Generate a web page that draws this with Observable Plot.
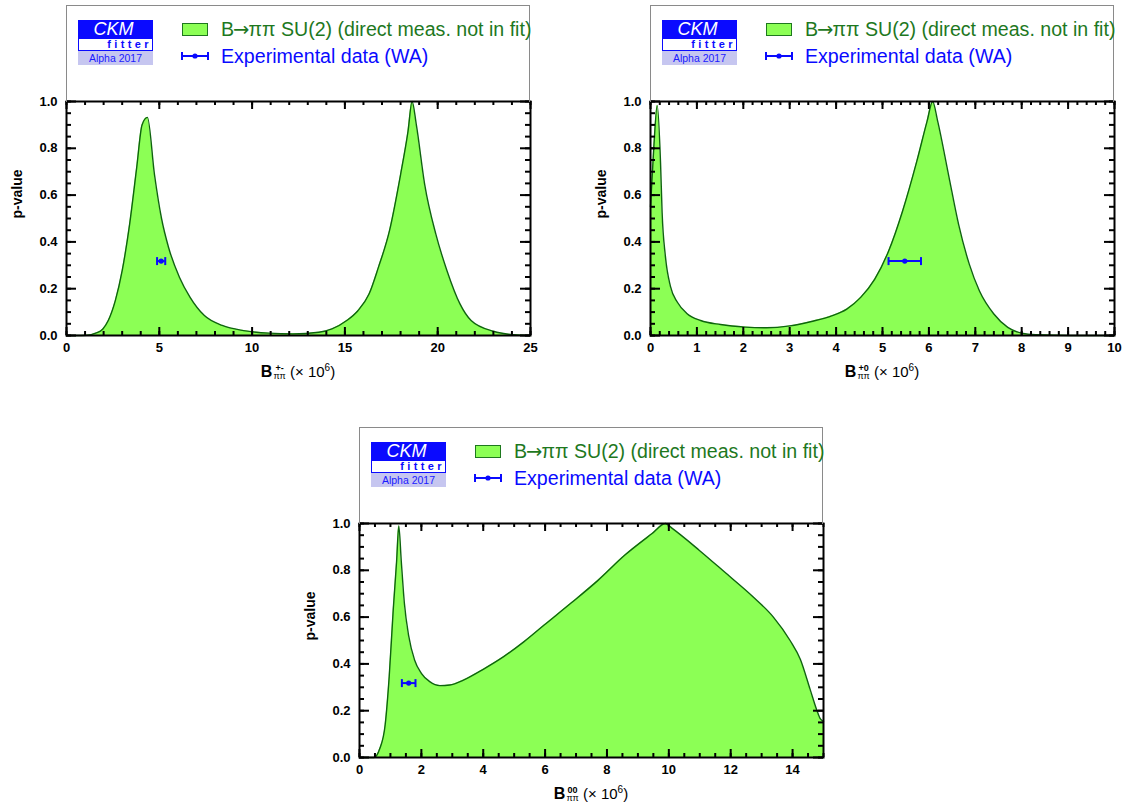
<!DOCTYPE html>
<html><head><meta charset="utf-8">
<script src="https://cdn.jsdelivr.net/npm/d3@7"></script>
<script src="https://cdn.jsdelivr.net/npm/@observablehq/plot@0.6"></script>
<style>
html,body{margin:0;padding:0;background:#fff;overflow:hidden;width:1132px;height:805px;font-family:"Liberation Sans",Arial,Helvetica,sans-serif;}
.panel{position:absolute;width:560px;height:395px;}
.panel svg{position:absolute;left:0;top:0;overflow:visible;}
.box{position:absolute;left:66px;top:5px;width:464px;height:97px;border:1px solid #8a8a8a;border-bottom:none;box-sizing:border-box;}
.logo{position:absolute;left:78px;top:20px;width:75px;}
.ckm{height:19px;overflow:hidden;background:#0a0aff;color:#fff;font-style:italic;font-size:18px;line-height:19px;text-align:center;padding-right:4px;box-sizing:border-box;}
.fit{height:12px;overflow:hidden;background:#fff;border:1px solid #0a0aff;border-top:none;color:#0a0aff;font-weight:bold;font-size:11px;line-height:11px;text-align:right;letter-spacing:3.4px;box-sizing:border-box;}
.alpha{height:14px;overflow:hidden;background:#c6c6f0;color:#1a1aff;font-size:10.5px;line-height:14px;text-align:center;}
.sw{position:absolute;left:182px;top:23px;width:26px;height:13px;background:#8cff55;border:1.5px solid #1e781e;box-sizing:border-box;}
.lt{position:absolute;left:221px;font-size:19.6px;line-height:20px;white-space:nowrap;}
.lt1{top:19px;color:#1e781e;}
.lt2{top:46px;color:#0a0aff;}
.arr{font-family:"DejaVu Sans";margin-left:-1px;margin-right:-1px;}
.xlab{position:absolute;left:66px;width:464px;top:362px;text-align:center;font-size:15px;white-space:nowrap;color:#000;}
.xlab b{font-weight:bold;font-size:16px;}
.ss{display:inline-flex;flex-direction:column;vertical-align:middle;font-size:9px;line-height:8px;font-weight:bold;margin-left:1px;position:relative;top:-1px;}
.ss .sb{font-weight:normal;}
.xlab sup{font-size:10px;}
</style>
</head><body>
<script>
// ---------- data ----------
const pm_x = [0, 0.5, 1.1, 1.57, 1.96, 2.25, 2.63, 3.0, 3.4, 3.78, 4.07, 4.36, 4.74, 5.12, 5.5, 6.09, 6.66, 7.43, 8.39, 9.54, 10.9, 12.2, 13.6, 14.3, 15.1, 15.7, 16.3, 16.8, 17.4, 18.0, 18.4, 18.62, 18.85, 19.3, 19.9, 20.5, 21.2, 21.8, 23.0, 24.1, 25];
const pm_p = [0, 0, 0.001, 0.01, 0.028, 0.064, 0.149, 0.277, 0.475, 0.716, 0.90, 0.932, 0.688, 0.50, 0.376, 0.248, 0.163, 0.085, 0.043, 0.021, 0.01, 0.007, 0.014, 0.028, 0.064, 0.106, 0.177, 0.29, 0.447, 0.688, 0.872, 1.0, 0.90, 0.645, 0.433, 0.277, 0.135, 0.064, 0.018, 0.003, 0];

const p0_x = [0, 0.07, 0.145, 0.216, 0.25, 0.32, 0.43, 0.58, 0.79, 1.08, 1.51, 2.04, 2.5, 3.0, 3.47, 3.92, 4.23, 4.53, 4.83, 5.13, 5.43, 5.74, 5.96, 6.08, 6.19, 6.42, 6.64, 6.87, 7.09, 7.4, 7.7, 8.0, 8.3, 9.06, 10];
const p0_p = [0.55, 0.8, 0.983, 0.74, 0.527, 0.34, 0.21, 0.142, 0.093, 0.064, 0.047, 0.036, 0.033, 0.041, 0.06, 0.085, 0.113, 0.163, 0.24, 0.36, 0.53, 0.745, 0.915, 1.0, 0.915, 0.69, 0.475, 0.305, 0.19, 0.092, 0.035, 0.01, 0.003, 0, 0];

const z0_x = [0, 0.47, 0.65, 0.83, 0.96, 1.09, 1.2, 1.27, 1.35, 1.45, 1.59, 1.78, 2.0, 2.27, 2.6, 2.92, 3.36, 4.0, 4.66, 5.32, 5.97, 6.84, 7.71, 8.58, 9.46, 9.89, 10.1, 10.98, 11.85, 12.72, 13.38, 13.92, 14.25, 14.57, 14.79, 14.9, 15];
const z0_p = [0, 0, 0.036, 0.14, 0.345, 0.63, 0.84, 0.99, 0.84, 0.66, 0.52, 0.417, 0.36, 0.324, 0.307, 0.31, 0.331, 0.377, 0.431, 0.495, 0.566, 0.66, 0.757, 0.865, 0.957, 1.0, 0.98, 0.886, 0.787, 0.687, 0.60, 0.50, 0.42, 0.29, 0.2, 0.165, 0.155];

// experimental data (WA): central value, error, plotted p-level
const expCentral = [5.10, 5.48, 1.59];
const expError = [0.22, 0.35, 0.22];
const expLevel = 0.318;

// axis ticks
const xMajor1 = [0, 5, 10, 15, 20, 25];
const xMajor2 = [0, 1, 2, 3, 4, 5, 6, 7, 8, 9, 10];
const xMajor3 = [0, 2, 4, 6, 8, 10, 12, 14];
const yMajor = [0, 0.2, 0.4, 0.6, 0.8, 1.0];

const legendFitParts = ["B", "\u2192", "\u03c0\u03c0 SU(2) (direct meas. not in fit)"];
const legendExp = "Experimental data (WA)";
const supLabels = ["+-", "+0", "00"];

// ---------- styles ----------
const FILL = "#8cff55", LINE = "#0e640e", BLUE = "#0a0aff";
const W = 560, H = 395, ML = 66, MR = 30, MT = 101, MB = 60;
const PW = W - ML - MR, PH = H - MT - MB;

const capSymbol = {draw(ctx, size) { const h = Math.sqrt(size / Math.PI); ctx.moveTo(0, -h); ctx.lineTo(0, h); }};

function panel(left, top, xs, ps, xmax, xMajor, minorStep, k) {
  const data = xs.map((x, i) => ({x, p: ps[i]}));
  const xMinor = d3.range(0, xmax + 1e-9, minorStep).map(v => +v.toFixed(6));
  const yMinor = d3.range(0, 1.0001, 0.05).map(v => +v.toFixed(3));
  const e = {c: expCentral[k], lo: expCentral[k] - expError[k], hi: expCentral[k] + expError[k], p: expLevel};
  const tk = {stroke: "black", strokeWidth: 2};
  const plot = Plot.plot({
    width: W, height: H, marginLeft: ML, marginRight: MR, marginTop: MT, marginBottom: MB,
    style: {fontFamily: "'Liberation Sans', Arial, sans-serif", fontSize: "13px", fontWeight: "bold", background: "transparent", color: "black"},
    x: {domain: [0, xmax]},
    y: {domain: [0, 1]},
    marks: [
      Plot.areaY(data, {x: "x", y: "p", fill: FILL, curve: "monotone-x"}),
      Plot.line(data, {x: "x", y: "p", stroke: LINE, strokeWidth: 1.4, curve: "monotone-x"}),
      Plot.ruleY([e], {y: "p", x1: "lo", x2: "hi", stroke: BLUE, strokeWidth: 2}),
      Plot.dot([e], {x: "lo", y: "p", symbol: capSymbol, r: 4, stroke: BLUE, strokeWidth: 2}),
      Plot.dot([e], {x: "hi", y: "p", symbol: capSymbol, r: 4, stroke: BLUE, strokeWidth: 2}),
      Plot.dot([e], {x: "c", y: "p", r: 2.6, fill: BLUE}),
      // ticks (inward, all four sides)
      Plot.tickX(xMinor, {x: d => d, insetTop: PH - 4, ...tk}),
      Plot.tickX(xMinor, {x: d => d, insetBottom: PH - 4, ...tk}),
      Plot.tickX(xMajor, {x: d => d, insetTop: PH - 8, ...tk}),
      Plot.tickX(xMajor, {x: d => d, insetBottom: PH - 8, ...tk}),
      Plot.tickY(yMinor, {y: d => d, insetRight: PW - 5, ...tk}),
      Plot.tickY(yMinor, {y: d => d, insetLeft: PW - 5, ...tk}),
      Plot.tickY(yMajor, {y: d => d, insetRight: PW - 10, ...tk}),
      Plot.tickY(yMajor, {y: d => d, insetLeft: PW - 10, ...tk}),
      Plot.frame({stroke: "black", strokeWidth: 2}),
      Plot.axisX({ticks: xMajor, tickSize: 0, tickPadding: 7, label: null, tickFormat: d => String(d)}),
      Plot.axisY({ticks: yMajor, tickSize: 0, tickPadding: 9, label: null, tickFormat: d3.format(".1f")}),
      Plot.text(["p-value"], {text: d => d, frameAnchor: "left", rotate: -90, dx: -49, fontSize: 14, fontWeight: "bold"})
    ]
  });
  const div = document.createElement("div");
  div.className = "panel";
  div.style.left = left + "px";
  div.style.top = top + "px";
  div.innerHTML = `
    <div class="box"></div>
    <div class="logo"><div class="ckm">CKM</div><div class="fit">fitter</div><div class="alpha">Alpha 2017</div></div>
    <div class="sw"></div>
    <svg width="30" height="10" style="position:absolute;left:180px;top:51px;overflow:visible">
      <line x1="2" y1="5" x2="28" y2="5" stroke="${BLUE}" stroke-width="2"/>
      <line x1="2" y1="1" x2="2" y2="9" stroke="${BLUE}" stroke-width="2"/>
      <line x1="28" y1="1" x2="28" y2="9" stroke="${BLUE}" stroke-width="2"/>
      <circle cx="15" cy="5" r="2.6" fill="${BLUE}"/>
    </svg>
    <div class="lt lt1">${legendFitParts[0]}<span class="arr">${legendFitParts[1]}</span>${legendFitParts[2]}</div>
    <div class="lt lt2">${legendExp}</div>
    <div class="xlab"><b>B</b><span class="ss"><span>${supLabels[k]}</span><span class="sb">\u03c0\u03c0</span></span> (\u00d7 10<sup>6</sup>)</div>`;
  div.insertBefore(plot, div.firstChild);
  document.body.appendChild(div);
}

panel(0, 0, pm_x, pm_p, 25, xMajor1, 1, 0);
panel(584, 0, p0_x, p0_p, 10, xMajor2, 0.2, 1);
panel(293, 422, z0_x, z0_p, 15, xMajor3, 0.5, 2);
</script>
</body></html>
